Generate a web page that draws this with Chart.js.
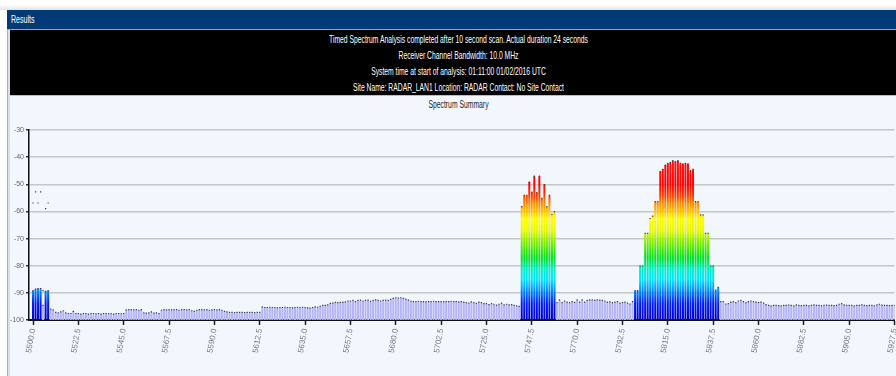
<!DOCTYPE html>
<html>
<head>
<meta charset="utf-8">
<script src="https://cdn.jsdelivr.net/npm/chart.js@4/dist/chart.umd.min.js"></script>
<style>
  html, body { margin: 0; padding: 0; background: #fff; width: 896px; height: 376px; overflow: hidden; }
  body { position: relative; font-family: "Liberation Sans", Arial, sans-serif; }
  .shade { position: absolute; left: 0; top: 0; width: 100%; height: 10px;
           background: linear-gradient(#ffffff 0%, #ffffff 45%, #e4e4e4 100%); }
  .panel { position: absolute; left: 7px; top: 10px; width: 905px; height: 380px;
           background: #f2f6fd; border-left: 1px solid #9fb0c6; box-sizing: border-box; }
  .panel-gutter { position: absolute; left: 8px; top: 30px; width: 2px; height: 360px; background: #d9e0ea; }
  .titlebar { position: absolute; left: 7px; top: 10px; width: 905px; height: 19px; background: #003b78;
              border-bottom: 1px solid #9aa6b4; }
  .titlebar span { position: absolute; left: 4px; top: 3px; color: #fff; font-size: 11px; line-height: 13px;
                   transform: scaleX(0.64); transform-origin: left center; white-space: nowrap; }
  .info { position: absolute; left: 10px; top: 30px; width: 897px; height: 65px; background: #000;
          border-bottom: 1px solid #b8bec8; }
  .info div { position: absolute; left: 0; width: 100%; text-align: center; color: #fff; font-size: 11px;
              line-height: 13px; white-space: nowrap; transform: scaleX(0.615); transform-origin: center; }
  .subtitle { position: absolute; left: 10px; top: 99px; width: 897px; text-align: center; color: #1e1e1e;
              font-size: 10px; line-height: 12px; transform: scaleX(0.68); transform-origin: center; }
  #spectrum { position: absolute; left: 10px; top: 96px; }
</style>
</head>
<body>
<div class="shade"></div>
<div class="panel"></div>
<div class="panel-gutter"></div>
<div class="titlebar"><span>Results</span></div>
<div class="info">
  <div style="top:3px">Timed Spectrum Analysis completed after 10 second scan. Actual duration 24 seconds</div>
  <div style="top:19px">Receiver Channel Bandwidth: 10.0 MHz</div>
  <div style="top:35px">System time at start of analysis: 01:11:00 01/02/2016 UTC</div>
  <div style="top:51px">Site Name: RADAR_LAN1  Location: RADAR  Contact: No Site Contact</div>
</div>
<div class="subtitle">Spectrum Summary</div>
<canvas id="spectrum" width="897" height="280"></canvas>
<script>
// Sweep layout: one bin every 1.25 MHz starting at 5500.0 MHz
const startMHz = 5500.0;
const binStepMHz = 1.25;

// Labelled frequency ticks (MHz)
const tickLabels = ['5500.0', '5522.5', '5545.0', '5567.5', '5590.0', '5612.5', '5635.0', '5657.5',
  '5680.0', '5702.5', '5725.0', '5747.5', '5770.0', '5792.5', '5815.0', '5837.5', '5860.0',
  '5882.5', '5905.0', '5927.5'];

// Level tick marks (dBm)
const levelTicks = [-100, -90, -80, -70, -60, -50, -40, -30];

// Measured level per bin (dBm)
const levelDbm = [
  -89.2, -88.6, -88.4, -88.4, -94.6, -89.4, -89.2, -96.0, -96.3, -97.2, -97.4, -97.0, -96.6, -97.4, -97.6, -97.6, -96.8, -97.6,
  -97.6, -97.8, -97.6, -97.6, -97.8, -97.6, -97.6, -97.7, -97.6, -97.8, -97.6, -97.6, -97.7, -97.6, -97.8, -97.6, -97.6, -97.7,
  -97.6, -96.3, -96.2, -96.2, -96.3, -96.2, -96.4, -96.2, -97.4, -97.5, -97.4, -97.0, -97.5, -97.4, -97.6, -96.4, -96.2, -96.3,
  -96.2, -96.3, -96.2, -96.2, -96.4, -96.2, -96.2, -96.3, -96.2, -96.6, -96.8, -96.4, -96.2, -96.2, -96.3, -96.2, -96.4, -96.3,
  -96.2, -96.3, -96.2, -96.4, -96.8, -97.0, -97.2, -97.2, -97.3, -97.2, -97.2, -97.2, -97.3, -97.2, -97.2, -97.2, -97.3, -97.2,
  -97.2, -95.2, -95.4, -95.4, -95.3, -95.4, -95.4, -95.5, -95.4, -95.4, -95.3, -95.4, -95.4, -95.5, -95.4, -95.3, -95.4, -95.3,
  -95.4, -95.5, -95.6, -95.4, -95.2, -95.3, -95.0, -94.6, -94.6, -94.4, -93.9, -93.8, -93.5, -93.6, -93.5, -93.4, -93.3, -93.0,
  -93.0, -92.8, -93.2, -92.8, -92.7, -93.0, -92.8, -92.7, -93.1, -92.8, -92.6, -92.8, -93.0, -92.8, -92.7, -92.8, -92.4, -92.0,
  -91.8, -91.9, -91.8, -92.0, -92.3, -92.7, -93.0, -93.2, -93.2, -93.1, -93.2, -93.2, -93.3, -93.2, -93.2, -93.1, -93.2, -93.2,
  -93.2, -93.3, -93.2, -93.2, -93.1, -93.2, -93.2, -93.3, -93.2, -93.4, -93.6, -93.8, -93.3, -93.6, -93.9, -93.4, -93.6, -94.0,
  -94.0, -94.3, -94.0, -94.2, -94.5, -94.2, -93.8, -94.4, -94.2, -94.4, -94.3, -94.6, -94.8, -95.0,
  -58.2, -54.1, -54.1, -49.2, -52.9, -47.0, -53.1, -47.0, -55.2, -50.1, -58.2, -54.1, -61.1, -60.1,
  -93.6, -92.6, -93.6, -93.0, -93.4, -93.6, -93.2, -93.5, -92.6, -93.4,
  -92.6, -93.4, -92.8, -92.6, -92.6, -92.8, -92.6, -92.7, -92.8, -93.0, -93.4, -93.3, -93.6, -93.4, -93.2, -93.8, -93.6,
  -93.4, -93.8, -94.1, -93.2,
  -89.2, -89.2, -80.1, -80.1, -68.1, -68.1, -62.6, -61.7, -56.4, -56.4, -45.3, -44.5, -42.9, -42.3, -42.0, -41.3, -41.6,
  -41.3, -42.3, -42.5, -42.3, -42.5, -45.0, -44.5, -56.4, -56.4, -61.3, -61.3, -68.1, -68.1, -80.1, -80.1, -89.0, -88.0,
  -93.2, -93.2, -94.1, -94.0, -93.4, -93.2, -93.6, -93.0, -92.8, -93.2, -93.6, -93.2, -93.0, -93.2, -93.4, -93.6,
  -93.4, -93.8, -94.3, -94.6, -94.8, -94.6, -94.6, -94.7, -94.8, -94.6, -94.6, -94.5, -94.6, -94.8, -94.4, -94.6, -94.7, -94.6,
  -94.6, -94.8, -94.6, -94.4, -94.6, -94.6, -94.8, -94.6, -94.5, -94.6, -94.6, -94.7, -94.6, -94.2, -94.0, -94.4, -94.6, -94.6,
  -94.6, -94.8, -94.6, -94.6, -94.4, -94.6, -94.7, -94.6, -94.6, -94.8, -94.4, -94.2, -94.5, -94.6, -94.6, -94.7, -94.6, -94.6
];

// Additional peak-hold readings that sit above their bins
const peakFreqMHz = [5500.0, 5501.25, 5502.5, 5503.75, 5505.0, 5506.25, 5507.5];
const peakDbm     = [-56.9, -52.8, -56.9, -52.8, -89.2, -59.0, -56.9];

const FONT = "'Liberation Sans', Arial, sans-serif";
const SIGNAL_THRESHOLD = -91;
const FLOOR = -100;

const binFreq = levelDbm.map((_, i) => startMHz + binStepMHz * i);
const barData = levelDbm.map((v, i) => ({ x: binFreq[i], y: [FLOOR, v] }));
const markerData = levelDbm.map((v, i) => ({ x: binFreq[i], y: v }))
  .concat(peakFreqMHz.map((f, i) => ({ x: f, y: peakDbm[i] })));

// Colour ramp by level (dBm -> colour)
const ramp = [
  [-100, '#0000c4'], [-94, '#0018ff'], [-89, '#0090ff'], [-85, '#00e6ff'], [-81, '#00f0c0'],
  [-77, '#00e020'], [-72, '#70ee00'], [-67, '#e8f800'], [-63, '#ffff00'], [-60, '#ffc400'],
  [-57, '#ff8a00'], [-54, '#ff3c00'], [-50, '#ff0000'], [-40, '#ff1818']
];
let cachedGrad = null, cachedKey = '';
function rampGradient(chart) {
  const y = chart.scales.y;
  const y0 = y.getPixelForValue(-100), y1 = y.getPixelForValue(-40);
  const key = y0 + ':' + y1;
  if (cachedGrad && cachedKey === key) return cachedGrad;
  const g = chart.ctx.createLinearGradient(0, y0, 0, y1);
  ramp.forEach(([v, c]) => g.addColorStop((v + 100) / 60, c));
  cachedGrad = g; cachedKey = key;
  return g;
}

new Chart(document.getElementById('spectrum'), {
  type: 'bar',
  data: {
    datasets: [
      {
        type: 'line',
        label: 'Peak',
        data: markerData,
        showLine: false,
        pointStyle: 'rect',
        pointRadius: 0.85,
        pointBorderWidth: 0,
        pointBackgroundColor: '#3a3a3a',
        order: 0
      },
      {
        type: 'bar',
        label: 'Level',
        data: barData,
        barPercentage: 0.8,
        categoryPercentage: 1.0,
        grouped: false,
        borderWidth: 0,
        backgroundColor: (c) => {
          const v = levelDbm[c.dataIndex];
          if (v > SIGNAL_THRESHOLD && c.chart.chartArea) return rampGradient(c.chart);
          return '#b2b4f6';
        },
        order: 1
      }
    ]
  },
  options: {
    responsive: false,
    animation: false,
    devicePixelRatio: 1,
    layout: { padding: { top: 34, right: 6, left: 0, bottom: 0 } },
    plugins: { legend: { display: false }, tooltip: { enabled: false }, title: { display: false } },
    scales: {
      x: {
        type: 'linear',
        min: 5498,
        max: 5927.5,
        offset: false,
        afterBuildTicks: (s) => { s.ticks = tickLabels.map(t => ({ value: parseFloat(t) })); },
        afterFit: (s) => { s.height = 56; },
        ticks: {
          autoSkip: false,
          maxRotation: 80,
          minRotation: 80,
          padding: 3,
          color: '#777',
          font: { family: FONT, size: 8 },
          callback: (v) => tickLabels.find(t => parseFloat(t) === v) || ''
        },
        grid: { offset: false, drawOnChartArea: false, drawTicks: true, tickLength: 5, tickColor: '#222', tickWidth: 1.5 },
        border: { display: true, color: '#111', width: 2 }
      },
      y: {
        min: -100,
        max: -30,
        afterBuildTicks: (s) => { s.ticks = levelTicks.map(v => ({ value: v })); },
        afterFit: (s) => { s.width = 19; },
        ticks: { padding: 2, color: '#666', font: { family: FONT, size: 7 } },
        grid: { color: '#c6c6c6', lineWidth: 1.5, tickLength: 3, tickColor: '#333', tickWidth: 1.5 },
        border: { display: true, color: '#111', width: 1.5 }
      }
    }
  }
});
</script>
</body>
</html>
